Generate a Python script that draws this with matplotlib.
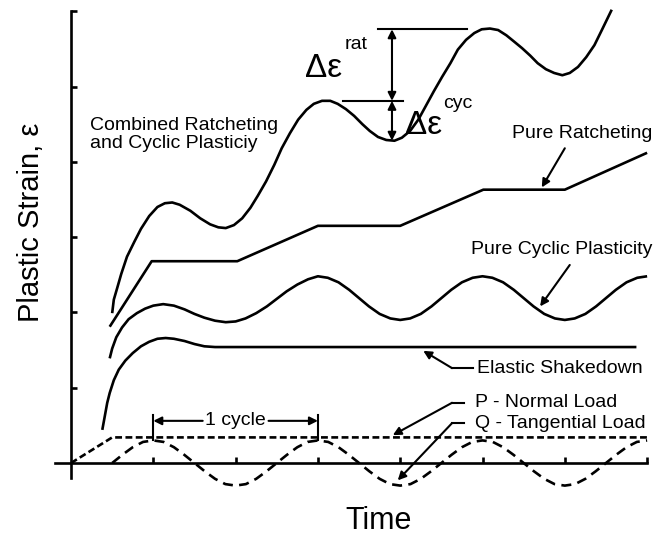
import numpy as np
import matplotlib
matplotlib.use("Agg")
import matplotlib.pyplot as plt

plt.rcParams['font.family'] = ['Liberation Sans', 'DejaVu Sans']

# time in half-cycles, strain in arbitrary units (schematic)
combined_t = [0.50, 0.52, 0.56, 0.61, 0.68, 0.77, 0.85, 0.95, 1.05, 1.14, 1.23, 1.32, 1.45, 1.57,
              1.69, 1.79, 1.88, 1.98, 2.08, 2.18, 2.27, 2.37, 2.47, 2.56, 2.66, 2.76, 2.86, 2.95,
              3.05, 3.15, 3.24, 3.34, 3.44, 3.54, 3.63, 3.73, 3.83, 3.93, 4.02, 4.12, 4.22, 4.31,
              4.41, 4.51, 4.61, 4.70, 4.80, 4.90, 4.99, 5.09, 5.19, 5.29, 5.38, 5.48, 5.58, 5.67,
              5.77, 5.87, 5.97, 6.06, 6.16, 6.26, 6.36, 6.45, 6.57]
combined_e = [1.99, 2.17, 2.32, 2.51, 2.74, 2.94, 3.11, 3.28, 3.40, 3.45, 3.46, 3.43, 3.35, 3.25,
              3.17, 3.13, 3.12, 3.16, 3.25, 3.39, 3.55, 3.74, 3.96, 4.18, 4.38, 4.56, 4.69, 4.77,
              4.81, 4.81, 4.77, 4.70, 4.61, 4.50, 4.41, 4.33, 4.29, 4.28, 4.32, 4.41, 4.56, 4.74,
              4.94, 5.13, 5.31, 5.49, 5.62, 5.71, 5.76, 5.77, 5.75, 5.68, 5.60, 5.51, 5.41, 5.31,
              5.23, 5.18, 5.15, 5.18, 5.26, 5.39, 5.55, 5.75, 6.02]

ratchet_t = [0.47, 0.98, 2.02, 3.00, 4.00, 5.01, 6.00, 7.00]
ratchet_e = [1.81, 2.68, 2.68, 3.15, 3.15, 3.63, 3.63, 4.12]

cyclic_t = [0.47, 0.50, 0.55, 0.62, 0.70, 0.80, 0.90, 1.00, 1.12, 1.25, 1.38, 1.50, 1.62, 1.75,
            1.88, 2.00, 2.12, 2.25, 2.38, 2.50, 2.62, 2.75, 2.88, 3.00, 3.12, 3.25, 3.38, 3.50,
            3.62, 3.75, 3.88, 4.00, 4.12, 4.25, 4.38, 4.50, 4.62, 4.75, 4.88, 5.00, 5.12, 5.25,
            5.38, 5.50, 5.62, 5.75, 5.88, 6.00, 6.12, 6.25, 6.38, 6.50, 6.62, 6.75, 6.88, 7.00]
cyclic_e = [1.39, 1.52, 1.67, 1.80, 1.91, 1.99, 2.05, 2.09, 2.11, 2.09, 2.04, 1.98, 1.93, 1.89,
            1.87, 1.88, 1.92, 1.99, 2.08, 2.18, 2.28, 2.37, 2.44, 2.48, 2.46, 2.40, 2.30, 2.19,
            2.08, 1.98, 1.92, 1.90, 1.92, 1.98, 2.08, 2.19, 2.30, 2.40, 2.46, 2.48, 2.46, 2.40,
            2.30, 2.19, 2.08, 1.98, 1.92, 1.90, 1.92, 1.98, 2.08, 2.19, 2.30, 2.40, 2.46, 2.48]

shake_t = [0.38, 0.41, 0.44, 0.47, 0.52, 0.58, 0.66, 0.75, 0.85, 0.95, 1.05, 1.15, 1.25, 1.38,
           1.50, 1.62, 1.75, 1.90, 6.87]
shake_e = [0.44, 0.62, 0.80, 0.93, 1.10, 1.24, 1.36, 1.46, 1.55, 1.61, 1.65, 1.66, 1.65, 1.62,
           1.58, 1.55, 1.54, 1.54, 1.54]

p_t = [0.0, 0.5, 7.0]
p_load = [0.0, 0.34, 0.34]

q_t = [0.5, 0.625, 0.75, 0.875, 1.0, 1.125, 1.25, 1.375, 1.5, 1.625, 1.75, 1.875, 2.0,
       2.125, 2.25, 2.375, 2.5, 2.625, 2.75, 2.875, 3.0, 3.125, 3.25, 3.375, 3.5, 3.625,
       3.75, 3.875, 4.0, 4.125, 4.25, 4.375, 4.5, 4.625, 4.75, 4.875, 5.0, 5.125, 5.25,
       5.375, 5.5, 5.625, 5.75, 5.875, 6.0, 6.125, 6.25, 6.375, 6.5, 6.625, 6.75, 6.875, 7.0]
q_load = [0.0, 0.11, 0.21, 0.28, 0.30, 0.28, 0.21, 0.11, 0.0, -0.11, -0.21, -0.28, -0.30,
          -0.28, -0.21, -0.11, 0.0, 0.11, 0.21, 0.28, 0.30, 0.28, 0.21, 0.11, 0.0, -0.11,
          -0.21, -0.28, -0.30, -0.28, -0.21, -0.11, 0.0, 0.11, 0.21, 0.28, 0.30, 0.28, 0.21,
          0.11, 0.0, -0.11, -0.21, -0.28, -0.30, -0.28, -0.21, -0.11, 0.0, 0.11, 0.21, 0.28, 0.30]

x_ticks = [1, 2, 3, 4, 5, 6, 7]
y_ticks = [1, 2, 3, 4, 5, 6]

fig = plt.figure(figsize=(6.56, 5.35), dpi=100)
ax = fig.add_axes([0, 0, 1, 1])
ax.set_xlim(-0.863, 7.108)
ax.set_ylim(-0.956, 6.149)

lw = 1.9
style = dict(color='k', lw=lw, solid_joinstyle='round', solid_capstyle='butt')
ax.plot(combined_t, combined_e, **style)
ax.plot(ratchet_t, ratchet_e, **style)
ax.plot(cyclic_t, cyclic_e, **style)
ax.plot(shake_t, shake_e, **style)
ax.plot(p_t, p_load, color='k', lw=lw, dashes=(2.6, 1.3))
ax.plot(q_t, q_load, color='k', lw=lw, dashes=(3.8, 2.4))

# axes through the origin
for s in ['top', 'right']:
    ax.spines[s].set_visible(False)
ax.spines['left'].set_position(('data', 0))
ax.spines['bottom'].set_position(('data', 0))
ax.spines['left'].set_bounds(-0.2, 6.0)
ax.spines['bottom'].set_bounds(-0.19, 7.0)
for s in ['left', 'bottom']:
    ax.spines[s].set_linewidth(lw)
ax.set_xticks(x_ticks)
ax.set_yticks(y_ticks)
ax.tick_params(direction='in', length=4, width=lw, labelbottom=False, labelleft=False)

ax.set_xlabel('Time', fontsize=22)
ax.xaxis.set_label_coords(379 / 656, 1 - 506 / 535)
ax.set_ylabel('Plastic Strain, ε', fontsize=21)
ax.yaxis.set_label_coords(45 / 656, 1 - 222 / 535)

arrow = dict(arrowstyle='-|>', color='k', lw=1.5, mutation_scale=12, shrinkA=0, shrinkB=0)
darrow = dict(arrowstyle='<|-|>', color='k', lw=1.5, mutation_scale=12, shrinkA=0, shrinkB=0)

# 1 cycle bracket
ax.plot([1.0, 1.0], [0.30, 0.64], color='k', lw=1.5)
ax.plot([3.0, 3.0], [0.30, 0.64], color='k', lw=1.5)
ax.annotate('', xy=(1.0, 0.56), xytext=(1.60, 0.56), arrowprops=arrow)
ax.annotate('', xy=(3.0, 0.56), xytext=(2.40, 0.56), arrowprops=arrow)
ax.text(2.0, 0.56, '1 cycle', fontsize=14, ha='center', va='center')

# strain increments
ax.plot([3.73, 4.81], [5.76, 5.76], color='k', lw=1.5)
ax.plot([3.30, 4.03], [4.81, 4.81], color='k', lw=1.5)
ax.annotate('', xy=(3.90, 5.76), xytext=(3.90, 4.81), arrowprops=darrow)
ax.annotate('', xy=(3.90, 4.81), xytext=(3.90, 4.28), arrowprops=darrow)
ax.text(2.84, 5.24, 'Δε', fontsize=24, ha='left', va='center')
ax.text(3.33, 5.56, 'rat', fontsize=14, ha='left', va='center')
ax.text(4.06, 4.48, 'Δε', fontsize=24, ha='left', va='center')
ax.text(4.52, 4.78, 'cyc', fontsize=14, ha='left', va='center')

# curve labels
ax.text(0.23, 4.36, 'Combined Ratcheting\nand Cyclic Plasticiy', fontsize=14,
        ha='left', va='center', linespacing=1.1)
ax.text(7.07, 4.37, 'Pure Ratcheting', fontsize=14, ha='right', va='center')
ax.annotate('', xy=(5.72, 3.66), xytext=(6.00, 4.18), arrowprops=arrow)
ax.text(7.07, 2.83, 'Pure Cyclic Plasticity', fontsize=14, ha='right', va='center')
ax.annotate('', xy=(5.70, 2.08), xytext=(6.06, 2.63), arrowprops=arrow)
ax.text(6.95, 1.26, 'Elastic Shakedown', fontsize=14, ha='right', va='center')
ax.plot([4.88, 4.63], [1.26, 1.26], color='k', lw=1.5)
ax.annotate('', xy=(4.28, 1.49), xytext=(4.63, 1.26), arrowprops=arrow)
ax.text(4.91, 0.80, 'P - Normal Load', fontsize=14, ha='left', va='center')
ax.plot([4.77, 4.63], [0.80, 0.80], color='k', lw=1.5)
ax.annotate('', xy=(3.91, 0.37), xytext=(4.63, 0.80), arrowprops=arrow)
ax.text(4.91, 0.52, 'Q - Tangential Load', fontsize=14, ha='left', va='center')
ax.plot([4.77, 4.63], [0.53, 0.53], color='k', lw=1.5)
ax.annotate('', xy=(3.97, -0.23), xytext=(4.63, 0.53), arrowprops=arrow)

fig.savefig('out.png', dpi=100)
